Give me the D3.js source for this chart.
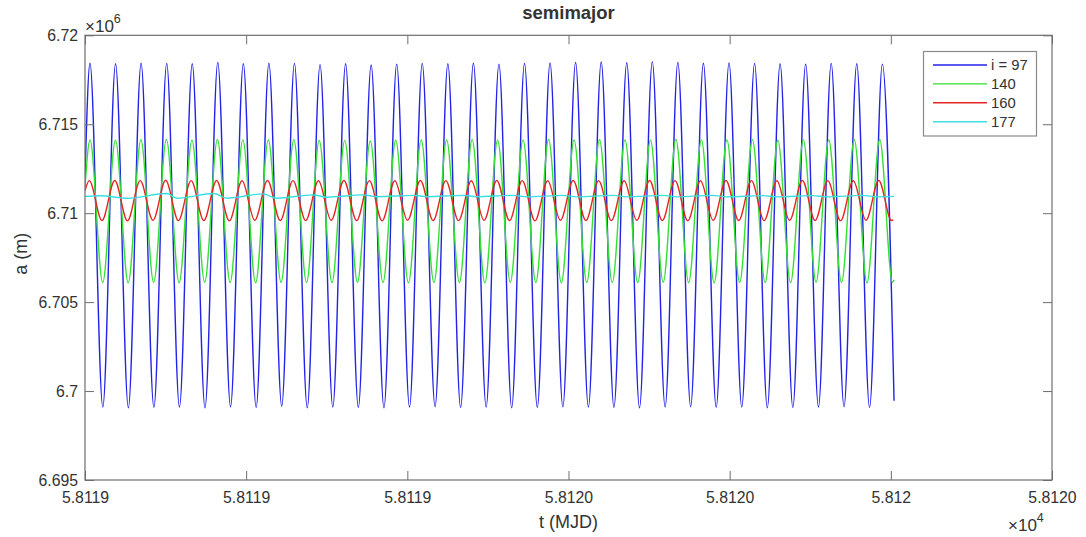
<!DOCTYPE html>
<html>
<head>
<meta charset="utf-8">
<script src="https://cdn.jsdelivr.net/npm/d3@7"></script>
<style>
  body { margin: 0; background: #fff; }
  text { font-family: "Liberation Sans", Arial, Helvetica, sans-serif; fill: #333; }
</style>
</head>
<body>
<svg id="chart" width="1086" height="537"></svg>
<script>
// time is stored as days after t0 (MJD), semimajor axis in metres
var t0 = 58119;

var blue = [
  [0,6712000],[0.0062,6718430],[0.0221,6699100],[0.0379,6718400],[0.0538,6699060],[0.0696,6718430],[0.0855,6699080],
  [0.1014,6718420],[0.1172,6699100],[0.1331,6718400],[0.1489,6699060],[0.1648,6718480],[0.1806,6699120],[0.1965,6718400],
  [0.2124,6699080],[0.2282,6718430],[0.2441,6699140],[0.2599,6718420],[0.2758,6699060],[0.2917,6718350],[0.3075,6699100],
  [0.3234,6718400],[0.3392,6699080],[0.3551,6718330],[0.3710,6699060],[0.3868,6718380],[0.4027,6699100],[0.4185,6718420],
  [0.4344,6699120],[0.4503,6718400],[0.4661,6699080],[0.4820,6718430],[0.4978,6699100],[0.5137,6718380],[0.5295,6699060],
  [0.5454,6718420],[0.5613,6699080],[0.5771,6718440],[0.5930,6699120],[0.6088,6718470],[0.6247,6699100],[0.6406,6718500],
  [0.6564,6699080],[0.6723,6718460],[0.6881,6699060],[0.7040,6718520],[0.7199,6699100],[0.7357,6718480],[0.7516,6699120],
  [0.7674,6718430],[0.7833,6699080],[0.7992,6718450],[0.8150,6699100],[0.8309,6718420],[0.8467,6699060],[0.8626,6718400],
  [0.8784,6699080],[0.8943,6718380],[0.9102,6699100],[0.9260,6718420],[0.9419,6699120],[0.9577,6718400],[0.9736,6699080],
  [0.9895,6718380],[1.0040,6699450]
];

var green = [
  [0,6711450],[0.0062,6714120],[0.0220,6706100],[0.0378,6714100],[0.0536,6706080],[0.0694,6714130],[0.0852,6706110],
  [0.1010,6714150],[0.1168,6706090],[0.1327,6714100],[0.1485,6706120],[0.1643,6714140],[0.1801,6706100],[0.1959,6714120],
  [0.2117,6706080],[0.2275,6714110],[0.2433,6706110],[0.2591,6714130],[0.2749,6706100],[0.2907,6714090],[0.3065,6706090],
  [0.3223,6714080],[0.3381,6706120],[0.3540,6714060],[0.3698,6706100],[0.3856,6714100],[0.4014,6706080],[0.4172,6714120],
  [0.4330,6706110],[0.4488,6714110],[0.4646,6706100],[0.4804,6714130],[0.4962,6706090],[0.5120,6714100],[0.5278,6706120],
  [0.5436,6714120],[0.5594,6706100],[0.5753,6714140],[0.5911,6706080],[0.6069,6714110],[0.6227,6706110],[0.6385,6714130],
  [0.6543,6706100],[0.6701,6714120],[0.6859,6706090],[0.7017,6714100],[0.7175,6706120],[0.7333,6714140],[0.7491,6706100],
  [0.7649,6714120],[0.7807,6706080],[0.7966,6714110],[0.8124,6706110],[0.8282,6714130],[0.8440,6706100],[0.8598,6714100],
  [0.8756,6706090],[0.8914,6714120],[0.9072,6706120],[0.9230,6714110],[0.9388,6706100],[0.9546,6714130],[0.9704,6706080],
  [0.9862,6714140],[1.0020,6706110],[1.0040,6706250]
];

var red = [
  [0,6711260],[0.0053,6711830],[0.0211,6709590],[0.0369,6711840],[0.0527,6709570],[0.0685,6711830],[0.0843,6709600],
  [0.1001,6711850],[0.1159,6709580],[0.1317,6711830],[0.1475,6709590],[0.1633,6711840],[0.1791,6709570],[0.1949,6711820],
  [0.2107,6709600],[0.2265,6711840],[0.2423,6709590],[0.2581,6711830],[0.2739,6709580],[0.2897,6711820],[0.3055,6709600],
  [0.3213,6711840],[0.3371,6709590],[0.3529,6711830],[0.3687,6709570],[0.3845,6711820],[0.4003,6709600],[0.4162,6711840],
  [0.4320,6709590],[0.4478,6711830],[0.4636,6709580],[0.4794,6711820],[0.4952,6709600],[0.5110,6711840],[0.5268,6709590],
  [0.5426,6711830],[0.5584,6709570],[0.5742,6711820],[0.5900,6709600],[0.6058,6711840],[0.6216,6709590],[0.6374,6711830],
  [0.6532,6709580],[0.6690,6711820],[0.6848,6709600],[0.7006,6711840],[0.7164,6709590],[0.7322,6711830],[0.7480,6709570],
  [0.7638,6711820],[0.7796,6709600],[0.7954,6711840],[0.8112,6709590],[0.8270,6711830],[0.8428,6709580],[0.8586,6711820],
  [0.8744,6709600],[0.8902,6711840],[0.9060,6709590],[0.9218,6711830],[0.9376,6709570],[0.9534,6711820],[0.9692,6709600],
  [0.9850,6711840],[1.0008,6709590],[1.0030,6709620]
];

var cyan = [
  [0,6710944],[0.0186,6710983],[0.0533,6710843],[0.1014,6711107],[0.1141,6710843],[0.1600,6711107],[0.1762,6710843],
  [0.2208,6711084],[0.2382,6710843],[0.2829,6711028],[0.3002,6710899],[0.3449,6711028],[0.3623,6710927],[0.4069,6711000],
  [0.4243,6710927],[0.4690,6711000],[0.4864,6710927],[0.5310,6711000],[0.5484,6710916],[0.5931,6711000],[0.6104,6710916],
  [0.6551,6711000],[0.6725,6710916],[0.7171,6711000],[0.7345,6710916],[0.7792,6711000],[0.7965,6710916],[0.8412,6710989],
  [0.8586,6710916],[0.9032,6710989],[0.9206,6710916],[0.9653,6711000],[0.9826,6710916],[1.0040,6710944]
];

var seriesNames = ["i = 97", "140", "160", "177"];
var xTicks = [58119.0, 58119.2, 58119.4, 58119.6, 58119.8, 58120.0, 58120.2];
var xTickLabels = ["5.8119", "5.8119", "5.8119", "5.8120", "5.8120", "5.812", "5.8120"];
var yTicks = [6695000, 6700000, 6705000, 6710000, 6715000, 6720000];
var yTickLabels = ["6.695", "6.7", "6.705", "6.71", "6.715", "6.72"];

(function() {
  var allSeries = [blue, green, red, cyan];
  var colors = ["#2222e8", "#33e033", "#e62424", "#38e0e0"];

  var pL = 85, pR = 1052, pT = 35.3, pB = 480;
  var svg = d3.select("#chart");
  svg.append("rect").attr("width", 1086).attr("height", 537).attr("fill", "#fff");

  var x = d3.scaleLinear().domain([xTicks[0], xTicks[xTicks.length - 1]]).range([pL, pR]);
  var y = d3.scaleLinear().domain([yTicks[0], yTicks[yTicks.length - 1]]).range([pB, pT]);

  svg.append("clipPath").attr("id", "clip")
    .append("rect").attr("x", pL).attr("y", pT).attr("width", pR - pL).attr("height", pB - pT);

  var line = d3.line()
    .x(function(d) { return x(t0 + d[0]); })
    .y(function(d) { return y(d[1]); })
    .curve(d3.curveMonotoneX);

  var plot = svg.append("g").attr("clip-path", "url(#clip)");
  allSeries.forEach(function(s, i) {
    plot.append("path").datum(s)
      .attr("d", line)
      .attr("fill", "none")
      .attr("stroke", colors[i])
      .attr("stroke-width", 1.4)
      .attr("stroke-linejoin", "round");
  });

  // axes, ticks pointing inward on all four sides
  var axisColor = "#6e6e6e";
  var gx = svg.append("g").attr("transform", "translate(0," + pB + ")")
    .call(d3.axisBottom(x).tickValues(xTicks)
      .tickFormat(function(d, i) { return xTickLabels[i]; })
      .tickSizeInner(-9).tickSizeOuter(0).tickPadding(12));
  var gxt = svg.append("g").attr("transform", "translate(0," + pT + ")")
    .call(d3.axisTop(x).tickValues(xTicks).tickFormat("").tickSizeInner(-9).tickSizeOuter(0));
  var gy = svg.append("g").attr("transform", "translate(" + pL + ",0)")
    .call(d3.axisLeft(y).tickValues(yTicks)
      .tickFormat(function(d, i) { return yTickLabels[i]; })
      .tickSizeInner(-9).tickSizeOuter(0).tickPadding(7));
  var gyr = svg.append("g").attr("transform", "translate(" + pR + ",0)")
    .call(d3.axisRight(y).tickValues(yTicks).tickFormat("").tickSizeInner(-9).tickSizeOuter(0));

  [gx, gxt, gy, gyr].forEach(function(g) {
    g.select(".domain").remove();
    g.selectAll(".tick line").attr("stroke", axisColor);
    g.selectAll(".tick text").attr("font-size", 15.8).attr("fill", "#3a3a3a")
      .style("font-family", '"Liberation Sans", Arial, sans-serif');
  });

  svg.append("rect")
    .attr("x", pL).attr("y", pT).attr("width", pR - pL).attr("height", pB - pT)
    .attr("fill", "none").attr("stroke", axisColor).attr("stroke-width", 1.2);

  // exponent markers
  var e6 = svg.append("text").attr("x", 85).attr("y", 32).attr("font-size", 17);
  e6.append("tspan").text("\u00d710");
  e6.append("tspan").attr("dy", -9).attr("font-size", 12.5).text("6");

  var e4 = svg.append("text").attr("x", 1008).attr("y", 531).attr("font-size", 17);
  e4.append("tspan").text("\u00d710");
  e4.append("tspan").attr("dy", -9).attr("font-size", 12.5).text("4");

  // title and axis labels
  svg.append("text").attr("x", (pL + pR) / 2).attr("y", 19)
    .attr("text-anchor", "middle").attr("font-size", 18.5).attr("font-weight", "bold")
    .attr("fill", "#222").text("semimajor");
  svg.append("text").attr("x", (pL + pR) / 2).attr("y", 528)
    .attr("text-anchor", "middle").attr("font-size", 18).text("t (MJD)");
  svg.append("text").attr("transform", "translate(27," + ((pT + pB) / 2 - 4) + ") rotate(-90)")
    .attr("text-anchor", "middle").attr("font-size", 18).text("a (m)");

  // legend
  var lg = svg.append("g");
  lg.append("rect").attr("x", 923.5).attr("y", 51.5).attr("width", 113).attr("height", 84.5)
    .attr("fill", "#fff").attr("stroke", "#8a8a8a").attr("stroke-width", 1.2);
  seriesNames.forEach(function(name, i) {
    var ly = 65 + i * 18.9;
    lg.append("line").attr("x1", 933).attr("x2", 987).attr("y1", ly).attr("y2", ly)
      .attr("stroke", colors[i]).attr("stroke-width", 1.4);
    lg.append("text").attr("x", 991).attr("y", ly).attr("dy", "0.35em")
      .attr("font-size", 14.8).text(name);
  });
})();
</script>
</body>
</html>
